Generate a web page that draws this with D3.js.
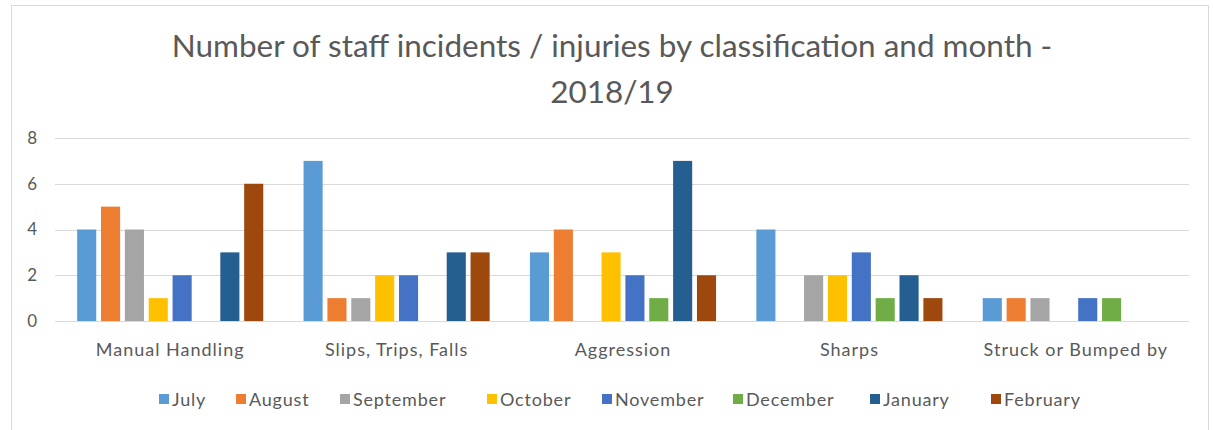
<!DOCTYPE html>
<html>
<head>
<meta charset="utf-8">
<script src="https://cdn.jsdelivr.net/npm/d3@7"></script>
<style>
  html, body { margin: 0; padding: 0; background: #fff; }
  svg { display: block; }
  text { font-family: "Lato", "Open Sans", sans-serif; }
</style>
</head>
<body>
<svg id="chart" width="1213" height="430"></svg>
<script>
const categories = ["Manual Handling", "Slips, Trips, Falls", "Aggression", "Sharps", "Struck or Bumped by"];
const months = ["July", "August", "September", "October", "November", "December", "January", "February"];
const colors = ["#5B9BD5", "#ED7D31", "#A5A5A5", "#FFC000", "#4472C4", "#70AD47", "#255E91", "#9E480E"];
const julyValues     = [4, 7, 3, 4, 1];
const augustValues   = [5, 1, 4, 0, 1];
const septemberValues= [4, 1, 0, 2, 1];
const octoberValues  = [1, 2, 3, 2, 0];
const novemberValues = [2, 2, 2, 3, 1];
const decemberValues = [0, 0, 1, 1, 1];
const januaryValues  = [3, 3, 7, 2, 0];
const februaryValues = [6, 3, 2, 1, 0];
const yTicks = [0, 2, 4, 6, 8];
const titleLines = ["Number of staff incidents / injuries by classification and month -", "2018/19"];

const series = [julyValues, augustValues, septemberValues, octoberValues, novemberValues, decemberValues, januaryValues, februaryValues];

const svg = d3.select("#chart");

// chart frame
svg.append("rect").attr("x", 11.5).attr("y", 5.5).attr("width", 1197).attr("height", 440)
  .attr("fill", "#fff").attr("stroke", "#d9d9d9").attr("stroke-width", 1);

const plot = { left: 57, right: 1189, top: 138, bottom: 321 };

const y = d3.scaleLinear().domain([0, 8]).range([plot.bottom, plot.top]);
const x0 = d3.scaleBand().domain(categories).range([plot.left, plot.right]).paddingInner(0.178).paddingOuter(0.089);
const x1 = d3.scaleBand().domain(months).range([0, x0.bandwidth()]).paddingInner(0.2).paddingOuter(0);

// gridlines
svg.append("g").selectAll("line").data(yTicks).join("line")
  .attr("x1", plot.left - 2).attr("x2", plot.right)
  .attr("y1", d => Math.round(y(d)) + 0.5).attr("y2", d => Math.round(y(d)) + 0.5)
  .attr("stroke", "#d9d9d9").attr("stroke-width", 1);

// y axis labels
const yAxis = d3.axisLeft(y).tickValues(yTicks).tickSize(0).tickPadding(0);
const yg = svg.append("g").attr("transform", `translate(${37},0)`).call(yAxis);
yg.select(".domain").remove();
yg.selectAll("text").attr("fill", "#595959").style("font-size", "17px").style("font-family", "Lato, 'Open Sans', sans-serif");

// bars
const groups = svg.append("g").selectAll("g").data(categories).join("g")
  .attr("transform", c => `translate(${x0(c)},0)`);
groups.selectAll("rect").data((c, ci) => months.map((m, mi) => ({ m, mi, v: series[mi][ci] })).filter(d => d.v > 0))
  .join("rect")
  .attr("x", d => x1(d.m))
  .attr("width", x1.bandwidth())
  .attr("y", d => y(d.v))
  .attr("height", d => y(0) - y(d.v))
  .attr("fill", d => colors[d.mi]);

// x axis labels
const xAxis = d3.axisBottom(x0).tickSize(0).tickPadding(0);
const xg = svg.append("g").attr("transform", `translate(0,${plot.bottom + 22})`).call(xAxis);
xg.select(".domain").remove();
xg.selectAll("text").attr("fill", "#595959").style("font-size", "18px").style("letter-spacing", "1px")
  .style("font-family", "Lato, 'Open Sans', sans-serif").attr("dy", "0.72em");

// title
const title = svg.append("g");
const t1 = title.append("text").attr("x", 612).attr("y", 57).attr("text-anchor", "middle")
  .attr("fill", "#595959").style("font-size", "26px").text(titleLines[0]);
const w = t1.node().getComputedTextLength();
const fs = 26 * 881 / w;
t1.style("font-size", fs + "px");
title.append("text").attr("x", 612).attr("y", 103).attr("text-anchor", "middle")
  .attr("fill", "#595959").style("font-size", fs + "px").text(titleLines[1]);

// legend
const legendX = [159, 236, 340, 487, 602, 733, 870, 991];
const legend = svg.append("g").selectAll("g").data(months).join("g")
  .attr("transform", (d, i) => `translate(${legendX[i]},399)`);
legend.append("rect").attr("x", 0).attr("y", -5).attr("width", 10).attr("height", 10).attr("fill", (d, i) => colors[i]);
legend.append("text").attr("x", 13).attr("y", 1).attr("dy", "0.35em").attr("fill", "#595959")
  .style("font-size", "18px").style("letter-spacing", "0.8px").text(d => d);
</script>
</body>
</html>
